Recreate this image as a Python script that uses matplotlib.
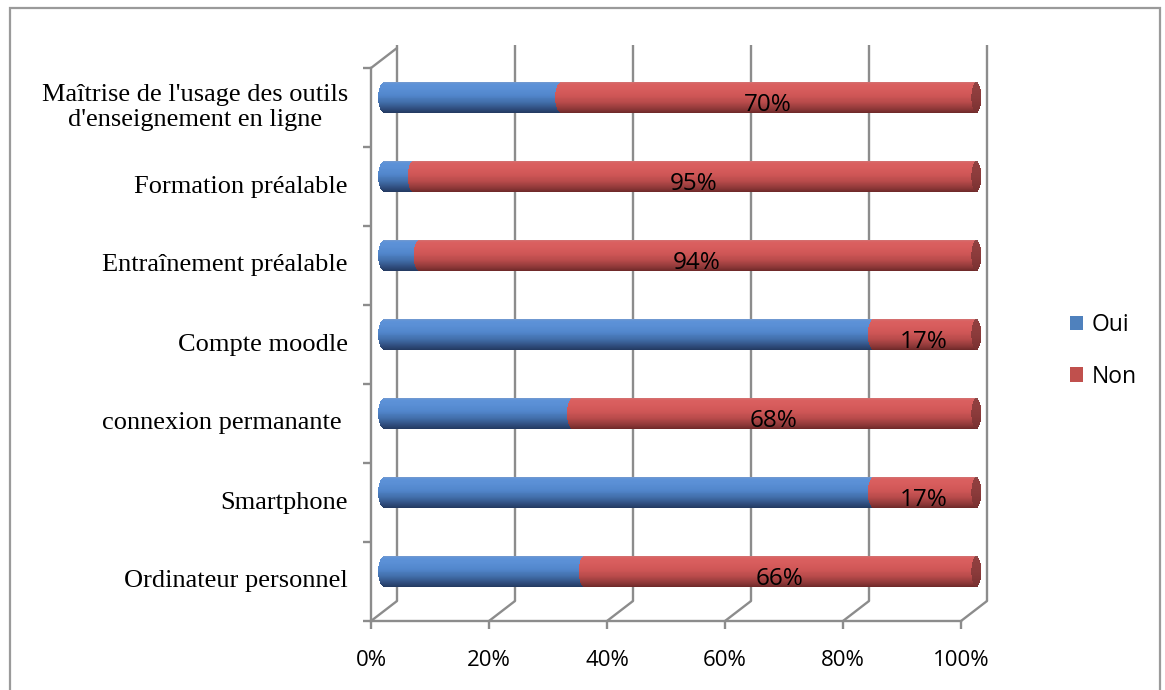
import matplotlib
matplotlib.use("Agg")
import matplotlib.pyplot as plt
import numpy as np
from matplotlib.transforms import ScaledTranslation
from matplotlib.patches import Rectangle, ConnectionPatch, Patch
from matplotlib.colors import LinearSegmentedColormap, to_rgb

# ---- data (bottom row first) ----
categories = [
    "Ordinateur personnel",
    "Smartphone",
    "connexion permanante ",
    "Compte moodle",
    "Entraînement préalable",
    "Formation préalable",
    "Maîtrise de l'usage des outils\nd'enseignement en ligne",
]
oui = [34, 83, 32, 83, 6, 5, 30]
non = [66, 17, 68, 17, 94, 95, 70]
x_ticks = [0, 20, 40, 60, 80, 100]
x_tick_labels = ["0%", "20%", "40%", "60%", "80%", "100%"]
series_names = ["Oui", "Non"]

# ---- figure ----
fig = plt.figure(figsize=(11.65, 6.9), dpi=100)
FW, FH = 1165, 690
ax = fig.add_axes([384 / FW, 79 / FH, 590 / FW, 553 / FH])
ax.set_xlim(0, 100)
ax.set_ylim(-0.5, len(categories) - 0.5)
ax.axis("off")

# depth offsets of the pseudo-3D box (inches)
dx, dy = 0.13, 0.10
back = ax.transData + ScaledTranslation(dx, dy, fig.dpi_scale_trans)
front = ax.transData + ScaledTranslation(-dx, -dy, fig.dpi_scale_trans)

grid_c = "#8c8c8c"
grid_lw = 1.7
ybot, ytop = -0.5, len(categories) - 0.5

def depth_edge(x, y):
    con = ConnectionPatch((x, y), (x, y), coordsA=front, coordsB=back,
                          color=grid_c, lw=grid_lw, zorder=1)
    con.set_clip_on(False)
    ax.add_artist(con)

# back wall gridlines and floor
for v in x_ticks:
    ax.plot([v, v], [ybot, ytop + 0.04], transform=back, color=grid_c,
            lw=grid_lw, clip_on=False, zorder=1, solid_capstyle="butt")
    depth_edge(v, ybot)
ax.plot([0, 100], [ybot, ybot], transform=front, color=grid_c, lw=grid_lw,
        clip_on=False, zorder=1)
ax.plot(x_ticks, [ybot] * len(x_ticks), transform=front, ls="none",
        marker=3, ms=6, mew=grid_lw, color=grid_c, clip_on=False)

# side wall
ax.plot([0, 0], [ybot, ytop], transform=front, color=grid_c, lw=grid_lw,
        clip_on=False, zorder=1)
ax.plot([0] * (len(categories) + 1), np.arange(ybot, ytop + 0.01, 1.0),
        transform=front, ls="none", marker=0, ms=6, mew=grid_lw,
        color=grid_c, clip_on=False)
depth_edge(0, ytop)

# ---- cylinder bars ----
blue_cmap = LinearSegmentedColormap.from_list("oui", [
    (0.0, "#223960"), (0.12, "#2e4b7a"), (0.35, "#4370ad"),
    (0.6, "#5287cc"), (0.8, "#5a8fd5"), (0.94, "#5d92d8"), (1.0, "#7399cf")])
red_cmap = LinearSegmentedColormap.from_list("non", [
    (0.0, "#6c2828"), (0.12, "#8c3737"), (0.35, "#ba4c4c"),
    (0.6, "#d05757"), (0.8, "#d85d5d"), (0.94, "#da6060"), (1.0, "#d27272")])

bar_h = 0.40
end_a = 1.0      # half-width of the rounded bar ends (data units)
cap_a = 0.85     # half-width of the visible end face
cap_shift = 0.4
n_strips = 32
rows = np.arange(len(categories))
o_arr = np.array(oui, dtype=float)
n_arr = np.array(non, dtype=float)
total = o_arr + n_arr
sh = bar_h / n_strips

for k in range(n_strips):
    t = (k + 0.5) / n_strips
    u = 2 * t - 1
    s = np.sqrt(max(0.0, 1 - u * u))
    r = end_a * s
    rc = cap_a * s
    y0 = rows - bar_h / 2 + k * sh
    ax.barh(y0, o_arr + r, left=-r, height=sh * 1.05, align="edge",
            color=blue_cmap(t), lw=0, zorder=3, clip_on=False)
    ax.barh(y0, n_arr + r + cap_shift, left=o_arr - r, height=sh * 1.05,
            align="edge", color=red_cmap(t), lw=0, zorder=4, clip_on=False)
    cap_col = tuple(c * 0.66 for c in to_rgb(red_cmap(0.3 + 0.7 * t)))
    ax.barh(y0, 2 * rc, left=total + cap_shift - rc, height=sh * 1.05,
            align="edge", color=cap_col, lw=0, zorder=5, clip_on=False)

# value labels on the "Non" segment
for i in rows:
    ax.text(oui[i] + non[i] / 2, i - 0.09, f"{non[i]}%", ha="center",
            va="center", fontsize=17.5, family="Open Sans", color="black",
            zorder=6)

# category labels on the side wall
cat_trans = ax.transData + ScaledTranslation(-0.36, -dy, fig.dpi_scale_trans)
for i, name in enumerate(categories):
    ax.text(0, i, name, transform=cat_trans, ha="right", va="center",
            multialignment="center", fontsize=19, family="Liberation Serif",
            color="black", linespacing=1.2)

# value axis labels
tick_trans = ax.transData + ScaledTranslation(-dx, -0.49, fig.dpi_scale_trans)
for v, lab in zip(x_ticks, x_tick_labels):
    ax.text(v, ybot, lab, transform=tick_trans, ha="center", va="center",
            fontsize=16, family="Open Sans", color="black")

# legend
handles = [Patch(facecolor="#4F81BD", edgecolor="none"),
           Patch(facecolor="#C0504D", edgecolor="none")]
fig.legend(handles, series_names, loc="center left",
           bbox_to_anchor=(1049 / FW, 1 - 351 / FH), frameon=False,
           prop={"family": "Open Sans", "size": 16.5}, handlelength=0.6,
           handleheight=0.6, handletextpad=0.35, labelspacing=1.2)

# chart frame
fig.add_artist(Rectangle((10 / FW, -0.05), 1150 / FW, 1.05 - 8 / FH,
                         transform=fig.transFigure, fill=False,
                         edgecolor="#9a9a9a", lw=1.6))

fig.savefig("out.png", dpi=100, facecolor="white")
